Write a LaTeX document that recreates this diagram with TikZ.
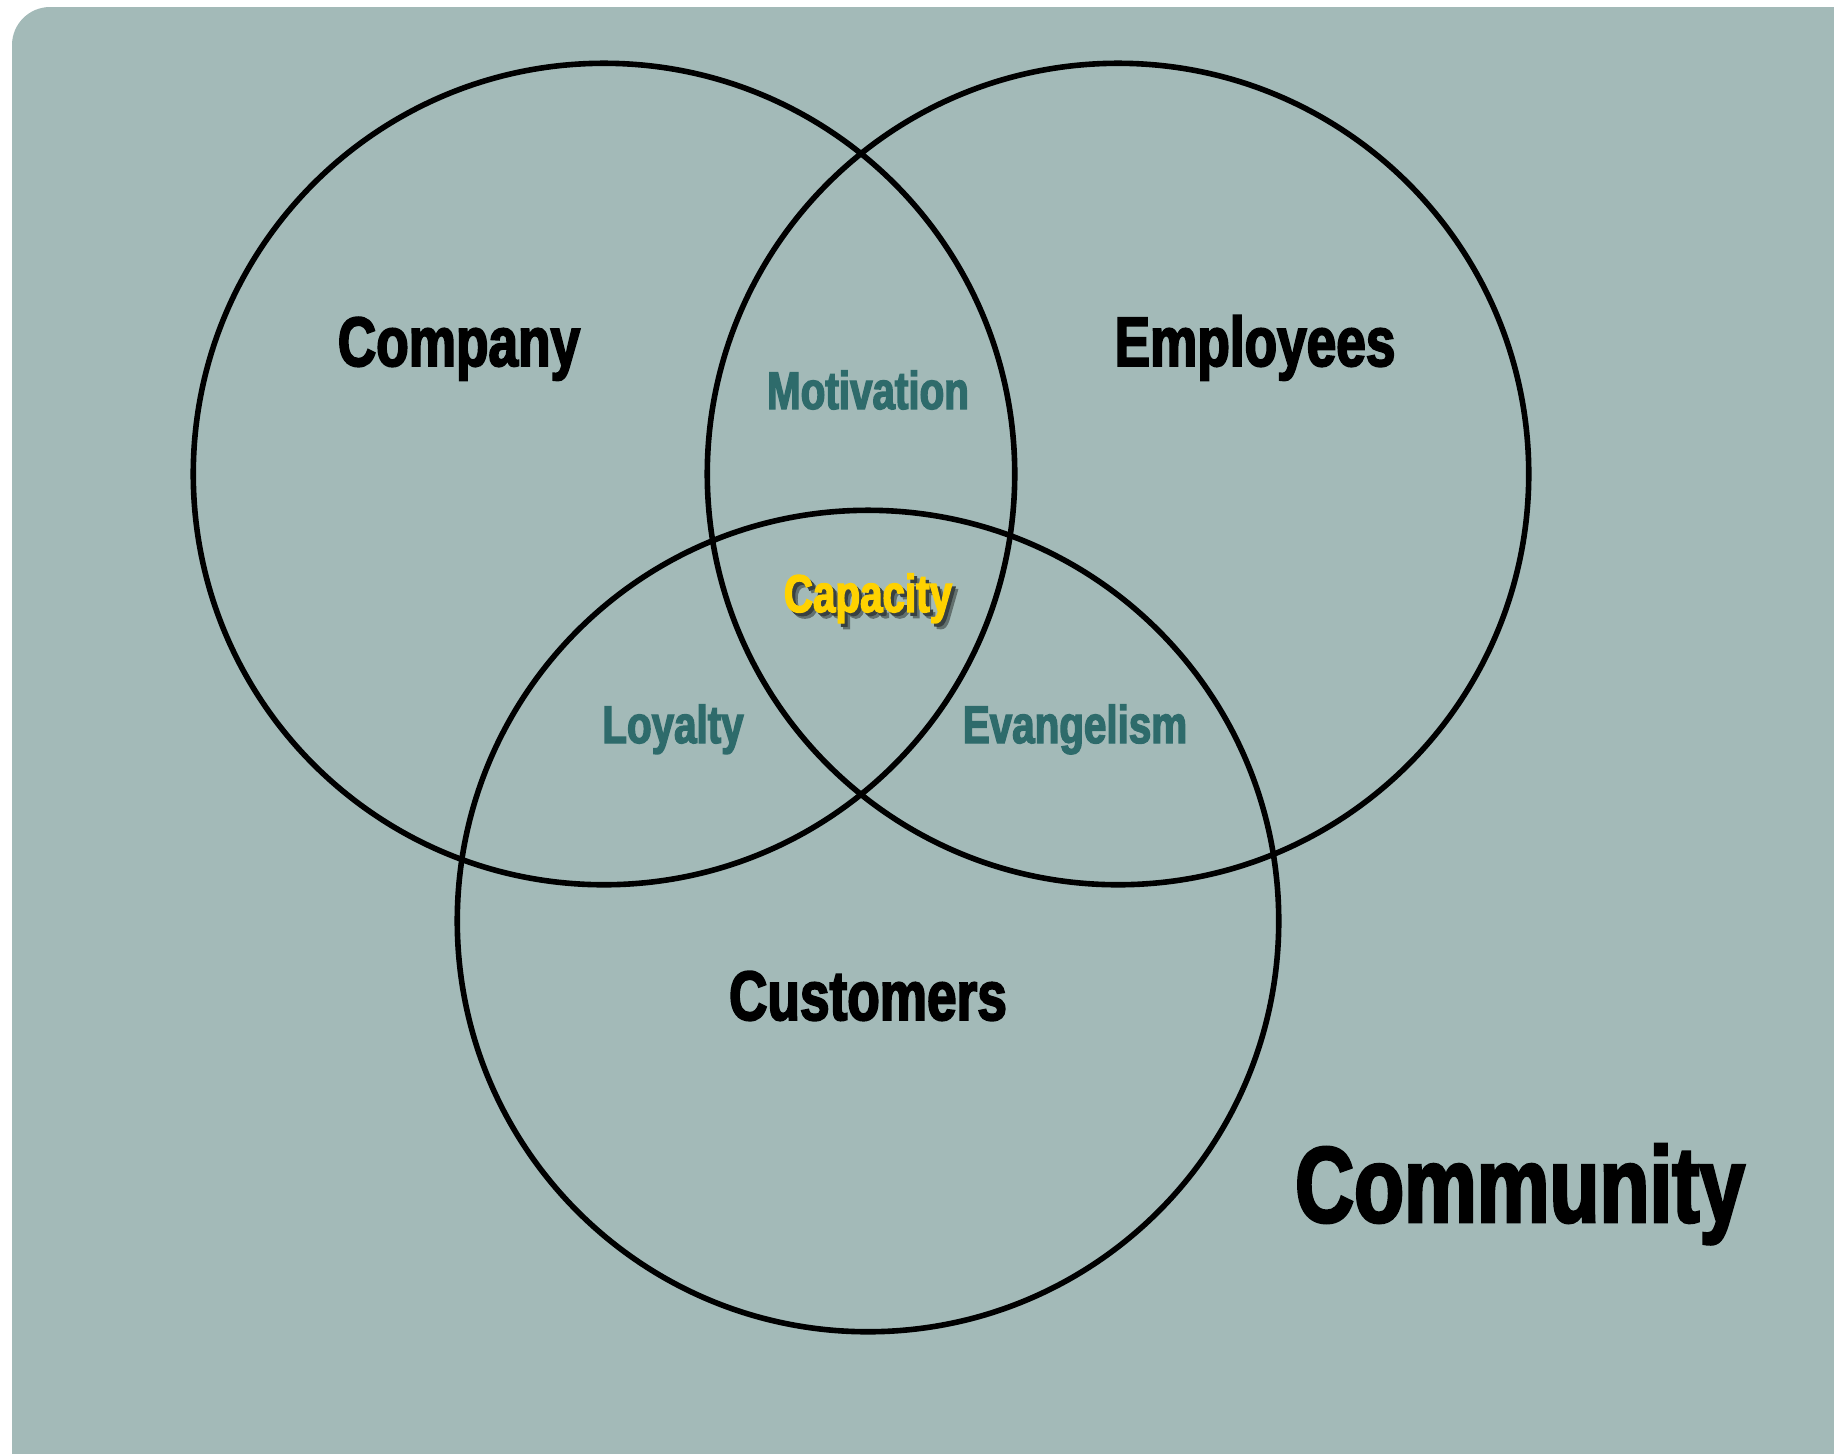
\documentclass[tikz,border=0pt]{standalone}
\usepackage{fontspec}
\newfontfamily\heavyfont{Liberation Sans Bold}[FakeStretch=0.76, FakeBold=2.6]
\definecolor{sage}{HTML}{A3BAB8}
\definecolor{deepteal}{HTML}{2E6B6B}
\definecolor{gold}{HTML}{FFD200}
\colorlet{haze}{sage!60!black}
\colorlet{shade}{sage!35!black}

% text with a soft drop shadow behind it
\newcommand{\shadowed}[1]{%
  \rlap{\kern1.6pt\raisebox{-1.6pt}{\color{haze}#1}}%
  \rlap{\kern0.9pt\raisebox{-0.9pt}{\color{shade}#1}}%
  #1}

\begin{document}
\begin{tikzpicture}[x=0.01cm, y=-0.01cm]

\tikzset{ring/.style = {shape=circle, draw=black, line width=0.056cm, minimum size=8.21cm, inner sep=0pt}}
\tikzset{big/.style = {anchor=base, inner sep=0pt, text=black, font=\heavyfont\fontsize{19.9}{24}\selectfont}}
\tikzset{overlap/.style = {anchor=base, inner sep=0pt, text=deepteal, font=\heavyfont\fontsize{15.1}{18}\selectfont}}

\useasboundingbox (0,0) rectangle (1834,1453);
\clip (0,0) rectangle (1834,1453);

% backdrop
\fill[sage, rounded corners=0.38cm] (12,7) rectangle (1880,1495);

% circles
\node[ring] (company) at (604,474) {};
\node[ring] (employees) at (1118,474) {};
\node[ring] (customers) at (868,921) {};

% labels
\node[big] (companylabel) at (459,366) {Company};
\node[big] (employeeslabel) at (1255,366) {Employees};
\node[big] (customerslabel) at (868,1020) {Customers};
\node[overlap] (motivation) at (868,409) {Motivation};
\node[overlap] (loyalty) at (673,743) {Loyalty};
\node[overlap] (evangelism) at (1075,743) {Evangelism};
\node[overlap, text=gold] (capacity) at (868,612) {\shadowed{Capacity}};

\node[big, font=\heavyfont\fontsize{30.6}{36}\selectfont] (community) at (1520,1222) {Community};

\end{tikzpicture}
\end{document}
